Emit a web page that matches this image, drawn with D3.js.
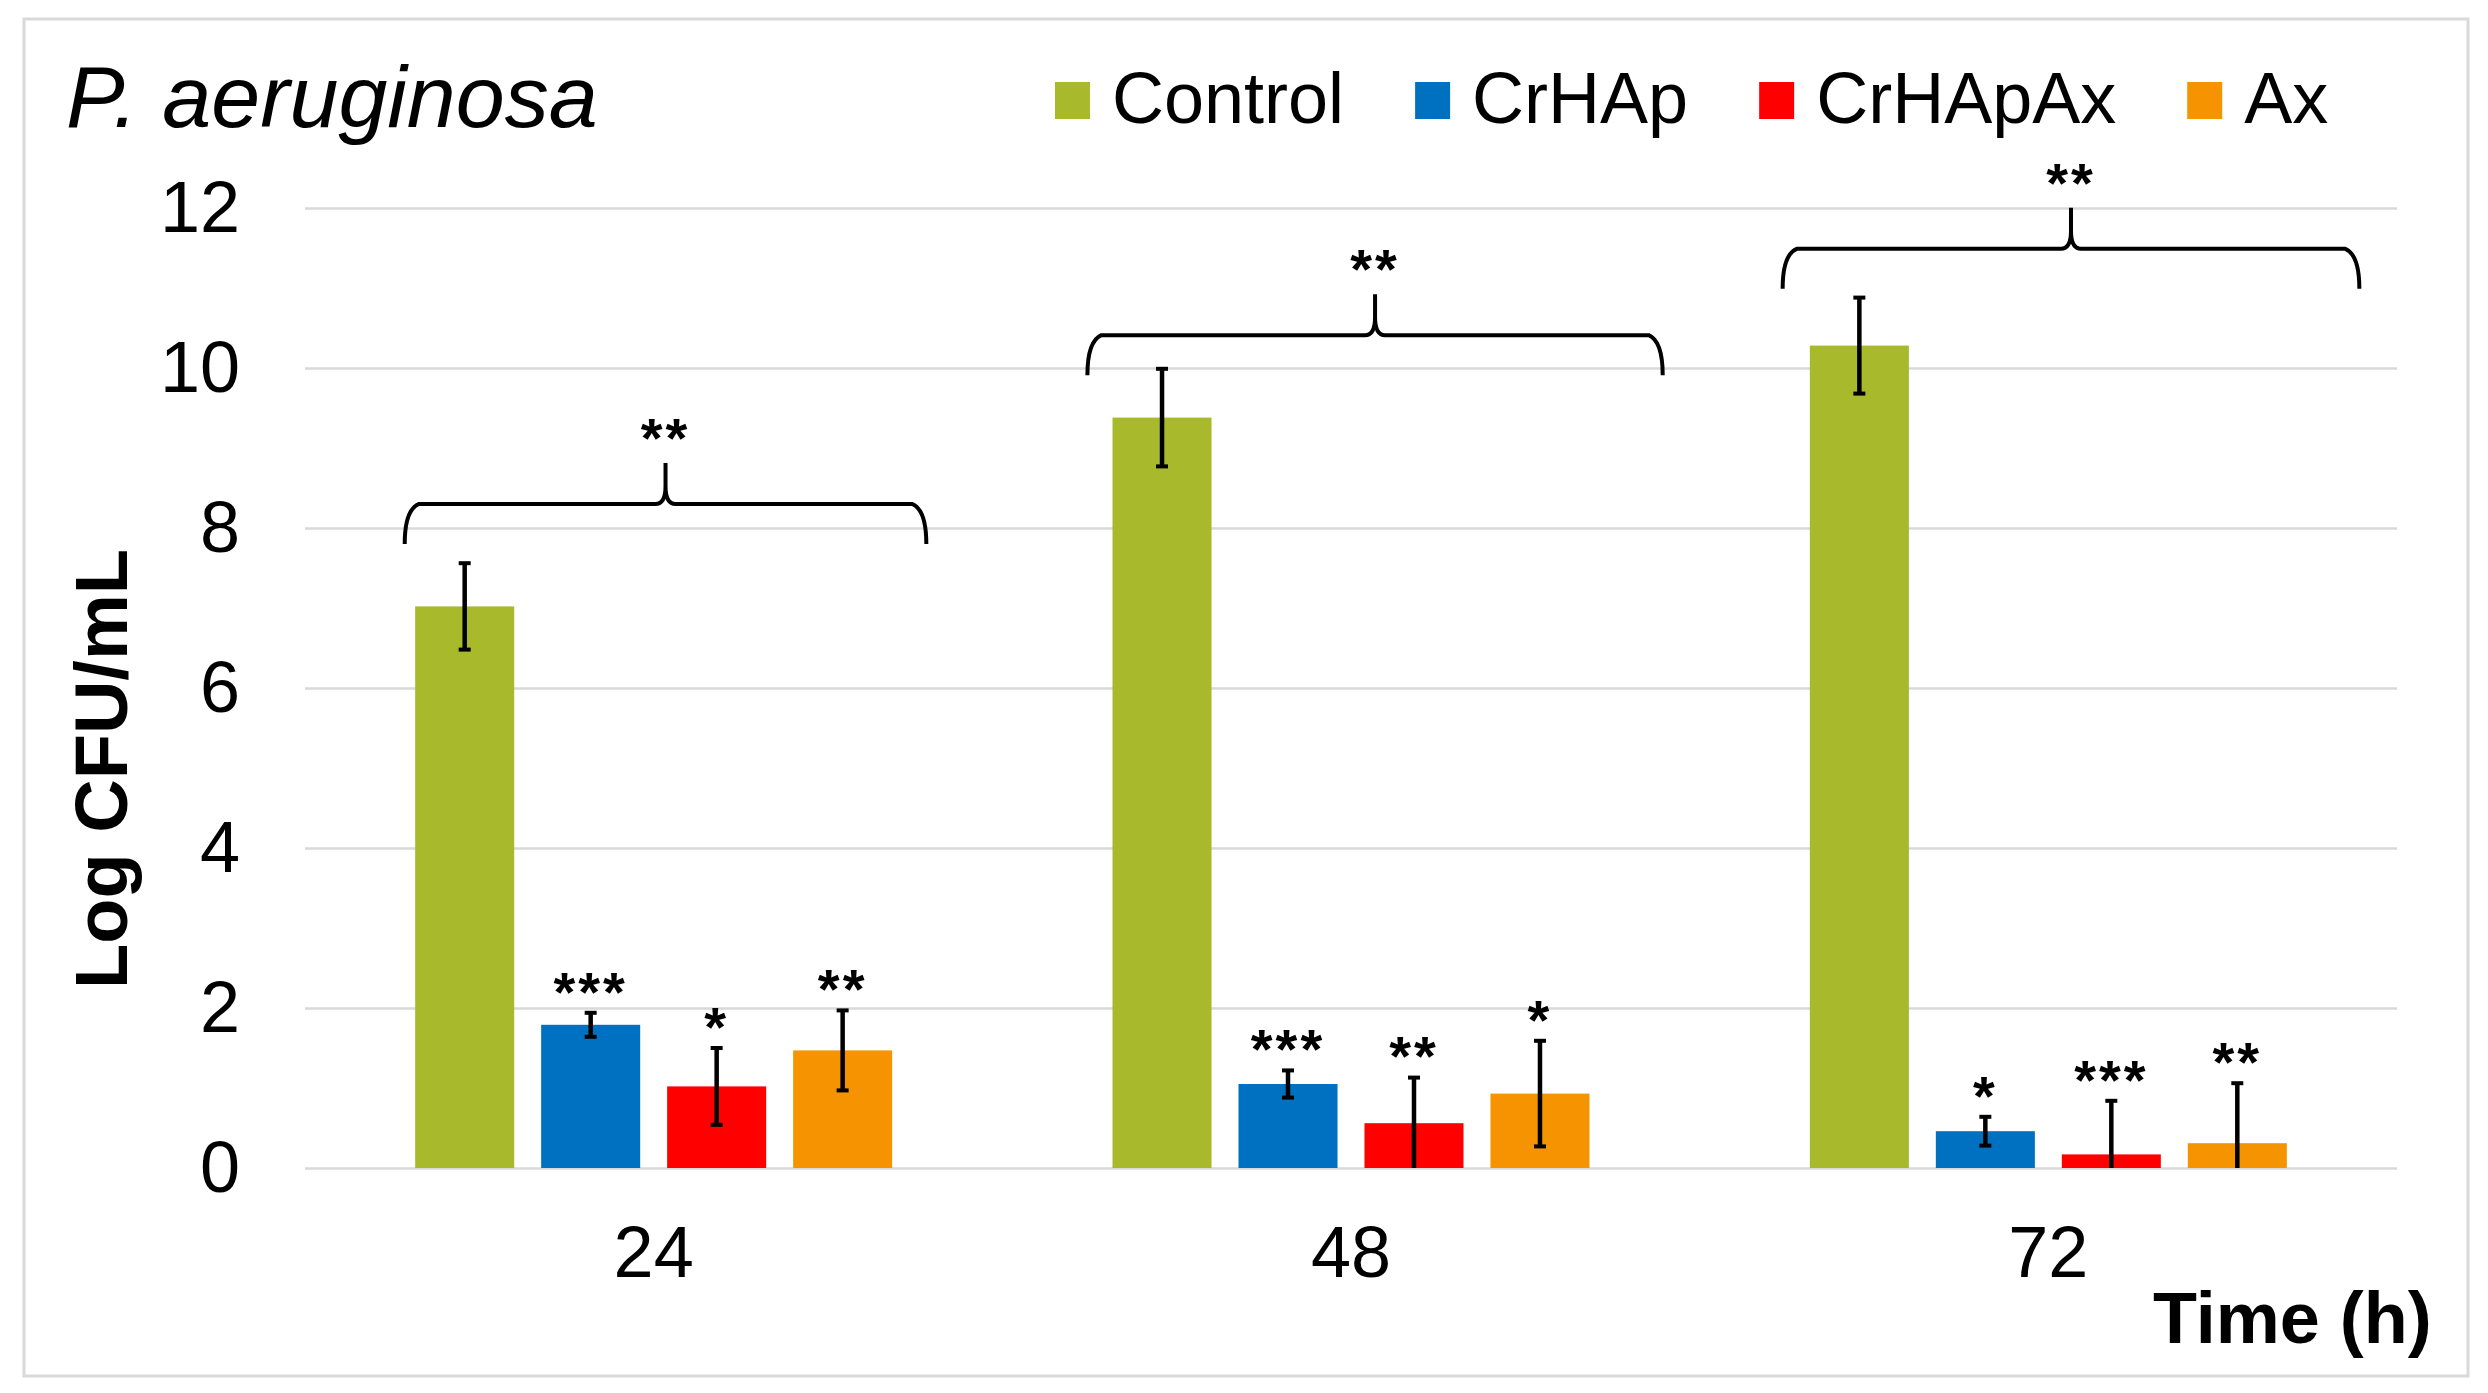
<!DOCTYPE html>
<html>
<head>
<meta charset="utf-8">
<script src="https://cdn.jsdelivr.net/npm/d3@7"></script>
<style>
  body { margin: 0; background: #fff; }
  text { font-family: "Liberation Sans", Arial, sans-serif; }
</style>
</head>
<body>
<div id="chart"></div>
<script>
// data
var timeLabels = ["24", "48", "72"];
var seriesNames = ["Control", "CrHAp", "CrHApAx", "Ax"];
var meanControl = [7.02, 9.38, 10.28];
var meanCrHAp = [1.79, 1.05, 0.46];
var meanCrHApAx = [1.02, 0.56, 0.17];
var meanAx = [1.47, 0.93, 0.31];
var sdControl = [0.54, 0.61, 0.6];
var sdCrHAp = [0.15, 0.17, 0.18];
var sdCrHApAx = [0.48, 0.57, 0.67];
var sdAx = [0.5, 0.66, 0.75];
var sigControl = ["", "", ""];
var sigCrHAp = ["***", "***", "*"];
var sigCrHApAx = ["*", "**", "***"];
var sigAx = ["**", "*", "**"];
var groupSig = ["**", "**", "**"];
var braceLevel = [8.3, 10.41, 11.49];
var yTicks = [0, 2, 4, 6, 8, 10, 12];

var palette = ["#a8b92b", "#0070c0", "#ff0000", "#f59300"];

window.onload = function () {
  var W = 2488, H = 1393;
  var margin = { top: 208, right: 91, bottom: 225, left: 305 },
    width = W - margin.left - margin.right,
    height = H - margin.top - margin.bottom;

  var svg = d3.select("#chart").append("svg")
    .attr("width", W).attr("height", H);

  // outer frame
  svg.append("rect")
    .attr("x", 24).attr("y", 19).attr("width", 2444).attr("height", 1357)
    .attr("fill", "none").attr("stroke", "#d9d9d9").attr("stroke-width", 3);

  var g = svg.append("g")
    .attr("transform", "translate(" + margin.left + "," + margin.top + ")");

  var means = [meanControl, meanCrHAp, meanCrHApAx, meanAx];
  var sds = [sdControl, sdCrHAp, sdCrHApAx, sdAx];
  var sigs = [sigControl, sigCrHAp, sigCrHApAx, sigAx];

  var rows = [];
  timeLabels.forEach(function (t, i) {
    seriesNames.forEach(function (s, j) {
      rows.push({ time: t, series: s, value: means[j][i], sd: sds[j][i], sig: sigs[j][i] });
    });
  });

  var x0 = d3.scaleBand().domain(timeLabels).range([0, width]);
  var bw = x0.bandwidth();
  var x1 = d3.scaleBand().domain(seriesNames)
    .range([bw * 0.158, bw * 0.842]).paddingInner(0.214);
  var y = d3.scaleLinear().domain([0, 12]).range([height, 0]);
  var color = d3.scaleOrdinal().domain(seriesNames).range(palette);

  // gridlines + y labels
  var yAxis = d3.axisLeft(y).tickValues(yTicks).tickSize(-width).tickPadding(65);
  var ya = g.append("g").call(yAxis);
  ya.select(".domain").remove();
  ya.selectAll(".tick line").attr("stroke", "#d9d9d9").attr("stroke-width", 2.5);
  ya.selectAll(".tick text")
    .attr("font-size", 72).attr("fill", "#000")
    .attr("dy", "0.32em")
    .style("font-family", "Liberation Sans, Arial, sans-serif");

  // x labels
  var xa = g.append("g").attr("transform", "translate(0," + height + ")")
    .call(d3.axisBottom(x0).tickSize(0).tickPadding(58));
  xa.select(".domain").remove();
  xa.selectAll(".tick text")
    .attr("font-size", 72).attr("fill", "#000")
    .style("font-family", "Liberation Sans, Arial, sans-serif");

  // bars
  g.append("g").selectAll("rect").data(rows).enter().append("rect")
    .attr("x", function (d) { return x0(d.time) + x1(d.series); })
    .attr("y", function (d) { return y(d.value); })
    .attr("width", x1.bandwidth())
    .attr("height", function (d) { return y(0) - y(d.value); })
    .attr("fill", function (d) { return color(d.series); });

  // error bars
  var eb = g.append("g").selectAll("g").data(rows).enter().append("g")
    .attr("transform", function (d) {
      return "translate(" + (x0(d.time) + x1(d.series) + x1.bandwidth() / 2) + ",0)";
    });
  eb.append("line")
    .attr("y1", function (d) { return y(d.value + d.sd); })
    .attr("y2", function (d) { return y(Math.max(0, d.value - d.sd)); })
    .attr("stroke", "#000").attr("stroke-width", 4.5);
  eb.append("line")
    .attr("x1", -6).attr("x2", 6)
    .attr("y1", function (d) { return y(d.value + d.sd); })
    .attr("y2", function (d) { return y(d.value + d.sd); })
    .attr("stroke", "#000").attr("stroke-width", 4);
  eb.filter(function (d) { return d.value - d.sd > 0; }).append("line")
    .attr("x1", -6).attr("x2", 6)
    .attr("y1", function (d) { return y(d.value - d.sd); })
    .attr("y2", function (d) { return y(d.value - d.sd); })
    .attr("stroke", "#000").attr("stroke-width", 4);

  // stars above bars
  eb.filter(function (d) { return d.sig; }).append("text")
    .attr("y", function (d) { return y(d.value + d.sd) - 37; })
    .attr("dy", "0.62em")
    .attr("text-anchor", "middle")
    .attr("font-size", 56).attr("font-weight", "bold")
    .attr("letter-spacing", 3)
    .text(function (d) { return d.sig; });

  // braces over each time point
  var braceSpan = [[0.143, 0.891], [0.122, 0.947], [0.119, 0.946]];
  timeLabels.forEach(function (t, i) {
    var xl = x0(t) + bw * braceSpan[i][0],
      xr = x0(t) + bw * braceSpan[i][1],
      xc = (xl + xr) / 2,
      yh = y(braceLevel[i]),
      yb = yh + 40, yp = yh - 41, r = 14;
    var p = d3.path();
    p.moveTo(xl, yb);
    p.quadraticCurveTo(xl, yh + 6, xl + r, yh);
    p.lineTo(xc - 10, yh);
    p.quadraticCurveTo(xc, yh, xc, yh - 18);
    p.lineTo(xc, yp);
    p.moveTo(xc, yh - 18);
    p.quadraticCurveTo(xc, yh, xc + 10, yh);
    p.lineTo(xr - r, yh);
    p.quadraticCurveTo(xr, yh + 6, xr, yb);
    g.append("path").attr("d", p.toString())
      .attr("fill", "none").attr("stroke", "#000").attr("stroke-width", 4);
    g.append("text")
      .attr("x", xc).attr("y", yp - 41).attr("dy", "0.62em")
      .attr("text-anchor", "middle").attr("font-size", 56).attr("font-weight", "bold")
      .attr("letter-spacing", 3)
      .text(groupSig[i]);
  });

  // title
  svg.append("text").attr("x", 66).attr("y", 127)
    .attr("font-size", 88).attr("font-style", "italic")
    .text("P. aeruginosa");

  // legend
  var lx = 1055;
  seriesNames.forEach(function (s) {
    svg.append("rect").attr("x", lx).attr("y", 82).attr("width", 35).attr("height", 37)
      .attr("fill", color(s));
    var tx = svg.append("text").attr("x", lx + 57).attr("y", 123)
      .attr("font-size", 72).text(s);
    lx += 57 + tx.node().getComputedTextLength() + 71;
  });

  // axis titles
  svg.append("text")
    .attr("transform", "translate(127,769) rotate(-90)")
    .attr("text-anchor", "middle").attr("font-size", 74).attr("font-weight", "bold")
    .text("Log CFU/mL");
  svg.append("text").attr("x", 2153).attr("y", 1343)
    .attr("font-size", 72).attr("font-weight", "bold")
    .text("Time (h)");
};
</script>
</body>
</html>
